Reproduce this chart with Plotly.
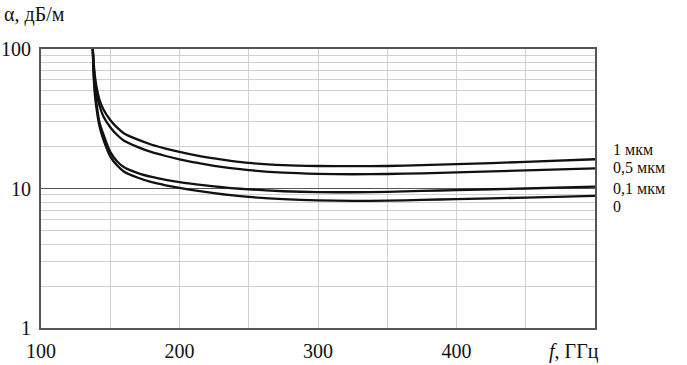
import plotly.graph_objects as go

# frequency (GHz) sample points
f_pts = [137.4, 138, 139, 140, 142, 145, 150, 155, 160, 170, 180, 190, 200,
         212, 225, 237, 250, 275, 300, 325, 350, 375, 400, 450, 500]

# attenuation (dB/m) for each roughness value
a_1um = [100, 80, 63, 54, 44, 37, 31, 27.3, 24.8, 22.4, 20.6, 19.3, 18.3,
         17.3, 16.45, 15.8, 15.25, 14.7, 14.5, 14.45, 14.5, 14.7, 14.95, 15.5, 16.2]
a_05um = [100, 76, 59, 50, 40, 33, 27.5, 24.2, 22.0, 19.8, 18.2, 17.1, 16.2,
          15.3, 14.55, 14.0, 13.55, 13.0, 12.75, 12.65, 12.7, 12.85, 13.05, 13.5, 13.95]
a_01um = [100, 68, 50, 41, 30.5, 24.5, 18.3, 15.6, 14.2, 12.9, 12.1, 11.55, 11.1,
          10.7, 10.35, 10.08, 9.86, 9.56, 9.42, 9.4, 9.45, 9.6, 9.75, 10.0, 10.3]
a_0um = [100, 64, 46, 38, 28.5, 22.5, 17.0, 14.6, 13.2, 11.95, 11.1, 10.55, 10.1,
         9.65, 9.25, 8.95, 8.7, 8.38, 8.22, 8.15, 8.18, 8.28, 8.4, 8.6, 8.85]

series_names = ["1 мкм", "0,5 мкм", "0,1 мкм", "0"]
series_vals = [a_1um, a_05um, a_01um, a_0um]
label_y = [0.638, 0.574, 0.500, 0.435]

x_tickvals = [100, 150, 200, 250, 300, 350, 400, 450, 500]
x_ticktext = ["100", "", "200", "", "300", "", "400", "", ""]
y_tickvals = [1, 10, 100]
y_ticktext = ["1", "10", "100"]

FONT = "Liberation Serif"

fig = go.Figure()
for name, vals in zip(series_names, series_vals):
    fig.add_trace(go.Scatter(x=f_pts, y=vals, mode="lines", name=name,
                             line=dict(color="#111111", width=2.3, shape="spline", smoothing=0.6),
                             showlegend=False, cliponaxis=True))

for name, yy in zip(series_names, label_y):
    fig.add_annotation(text=name, xref="paper", yref="paper", x=1.029, y=yy,
                       xanchor="left", yanchor="middle", showarrow=False,
                       font=dict(family=FONT, size=16, color="#111111"))

fig.add_annotation(text="α, дБ/м", xref="paper", yref="paper", x=-0.07, y=1.122,
                   xanchor="left", yanchor="middle", showarrow=False,
                   font=dict(family=FONT, size=20, color="#111111"))
fig.add_annotation(text="<i>f</i>, ГГц", xref="paper", yref="paper", x=0.913, y=-0.086,
                   xanchor="left", yanchor="middle", showarrow=False,
                   font=dict(family=FONT, size=20, color="#111111"))

fig.update_layout(
    width=687, height=365,
    margin=dict(l=41, r=92, t=49, b=37),
    paper_bgcolor="white", plot_bgcolor="white",
    font=dict(family=FONT, size=20, color="#111111"),
    xaxis=dict(range=[100, 500], tickvals=x_tickvals, ticktext=x_ticktext,
               showgrid=True, gridcolor="#d0d0d0", gridwidth=1, automargin=False,
               showline=True, linecolor="#555555", linewidth=2, mirror=True,
               zeroline=False, ticks="", ticklabelstandoff=4),
    yaxis=dict(type="log", range=[0, 2], tickvals=y_tickvals, ticktext=y_ticktext,
               showgrid=True, gridcolor="#555555", gridwidth=1, automargin=False,
               minor=dict(dtick="D1", showgrid=True, gridcolor="#d0d0d0", gridwidth=1, ticks=""),
               showline=True, linecolor="#555555", linewidth=2, mirror=True,
               zeroline=False, ticks="", ticklabelstandoff=4),
)

fig.write_html("out.html", config={"displayModeBar": False},
               post_script="document.body.style.margin='0';document.body.style.overflow='hidden';")
